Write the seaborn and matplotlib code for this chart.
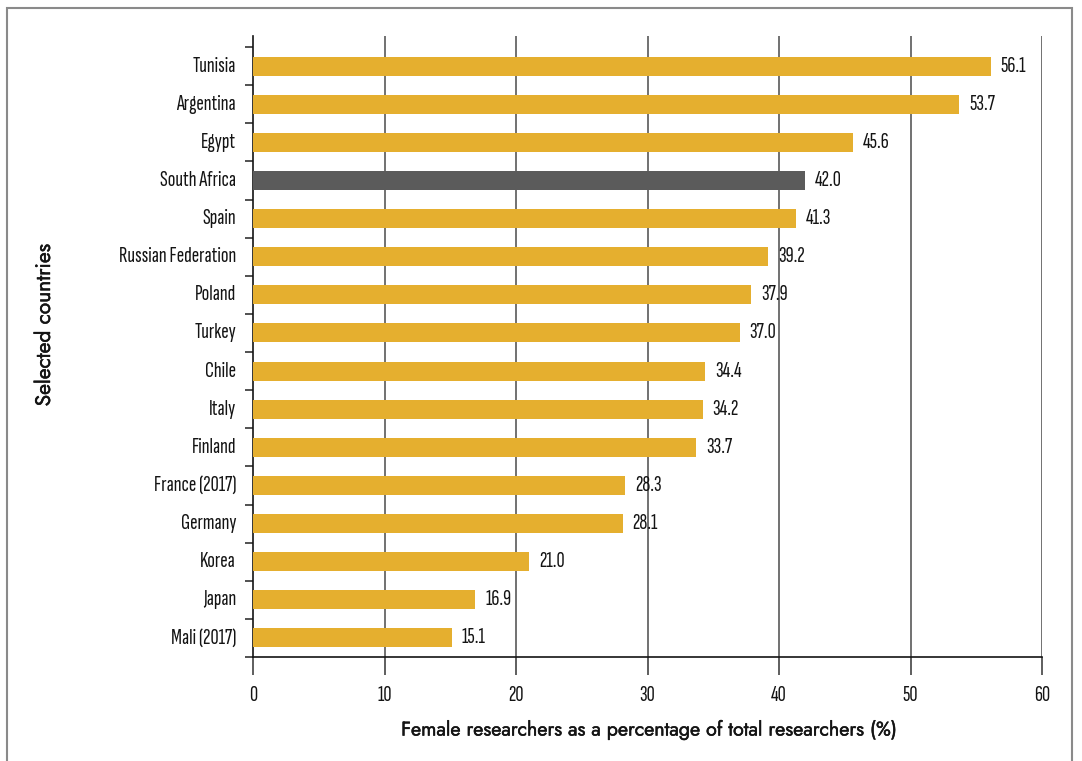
import matplotlib
matplotlib.use("Agg")
import matplotlib.pyplot as plt
import matplotlib.patches as mpatches
import matplotlib.patheffects as pe
import seaborn as sns
import pandas as pd

countries = ["Tunisia", "Argentina", "Egypt", "South Africa", "Spain",
             "Russian Federation", "Poland", "Turkey", "Chile", "Italy",
             "Finland", "France (2017)", "Germany", "Korea", "Japan", "Mali (2017)"]
values = [56.1, 53.7, 45.6, 42.0, 41.3, 39.2, 37.9, 37.0, 34.4, 34.2,
          33.7, 28.3, 28.1, 21.0, 16.9, 15.1]
highlight = "South Africa"
x_ticks = [0, 10, 20, 30, 40, 50, 60]
x_title = "Female researchers as a percentage of total researchers (%)"
y_title = "Selected countries"

GOLD = "#E5AF2F"
GREY = "#5B5B5B"
INK = "#141414"
NARROW = ["Sofia Sans Extra Condensed", "DejaVu Sans"]
GEO = ["Jost", "DejaVu Sans"]

df = pd.DataFrame({"country": countries, "value": values})
df["group"] = ["hl" if c == highlight else "base" for c in countries]

sns.set_theme(style="white")
plt.rcParams["font.family"] = NARROW

W, H = 1082, 761
fig = plt.figure(figsize=(W / 100, H / 100), dpi=100)
ax = fig.add_axes([253 / W, 1 - 657 / H, (1042 - 253) / W, (657 - 36) / H])


def fit_size(text, family, target_px, weight="normal", start=12.0):
    """Font size (pt) at which `text` spans about `target_px` pixels."""
    r = fig.canvas.get_renderer()
    t = fig.text(0, 0, text, fontsize=start, family=family, fontweight=weight)
    w = t.get_window_extent(renderer=r).width
    t.remove()
    return start * target_px / w


label_fs = fit_size("Russian Federation", NARROW, 118)
xtitle_fs = fit_size(x_title, GEO, 497)
ytitle_fs = fit_size(y_title, GEO, 163)
heavy = [pe.withStroke(linewidth=0.35, foreground=INK)]

sns.barplot(data=df, x="value", y="country", hue="group", order=countries,
            palette={"base": GOLD, "hl": GREY}, width=0.5, dodge=False,
            legend=False, ax=ax, saturation=1, linewidth=0, zorder=3)

ax.set_xlim(0, 60)
ax.set_ylim(len(countries) - 0.5, -0.79)

# vertical reference lines
for t in x_ticks[1:]:
    ax.axvline(t, color="#4a4a4a", lw=1.1, zorder=1)

ax.set_xticks(x_ticks)
ax.set_xticklabels([str(t) for t in x_ticks], fontsize=label_fs, family=NARROW, color=INK)
ax.tick_params(axis="x", direction="out", length=13, width=1.1, color="#333333",
               pad=8, bottom=True)

ax.set_yticks([i - 0.5 for i in range(len(countries) + 1)])
ax.set_yticklabels([])
ax.tick_params(axis="y", direction="out", length=6, width=1.1, color="#222222", left=True)
for i, c in enumerate(countries):
    ax.annotate(c, xy=(0, i), xycoords=ax.get_yaxis_transform(),
                xytext=(-17, 0), textcoords="offset pixels", ha="right",
                va="center", fontsize=label_fs, family=NARROW, color=INK)

for i, v in enumerate(values):
    ax.annotate(f"{v:.1f}", xy=(v, i), xytext=(10, 0), textcoords="offset pixels",
                ha="left", va="center", fontsize=label_fs, family=NARROW,
                color=INK, zorder=4)

for s in ["top", "right"]:
    ax.spines[s].set_visible(False)
for s in ["left", "bottom"]:
    ax.spines[s].set_color(INK)
    ax.spines[s].set_linewidth(1.2)

ax.set_xlabel("")
ax.set_ylabel("")
fig.text(649 / W, 1 - 730 / H, x_title, ha="center", va="center",
         fontsize=xtitle_fs, family=GEO, color=INK, path_effects=heavy)
fig.text(44 / W, 1 - 325 / H, y_title, rotation=90, ha="center",
         va="center", fontsize=ytitle_fs, family=GEO, color=INK, path_effects=heavy)

# outer frame
frame = mpatches.Rectangle((7 / W, -0.02), (1072 - 7) / W, 1 - 8 / H + 0.02,
                           transform=fig.transFigure, fill=False,
                           edgecolor="#8a8a8a", lw=1.5)
fig.patches.append(frame)

fig.savefig("out.png", dpi=100)
